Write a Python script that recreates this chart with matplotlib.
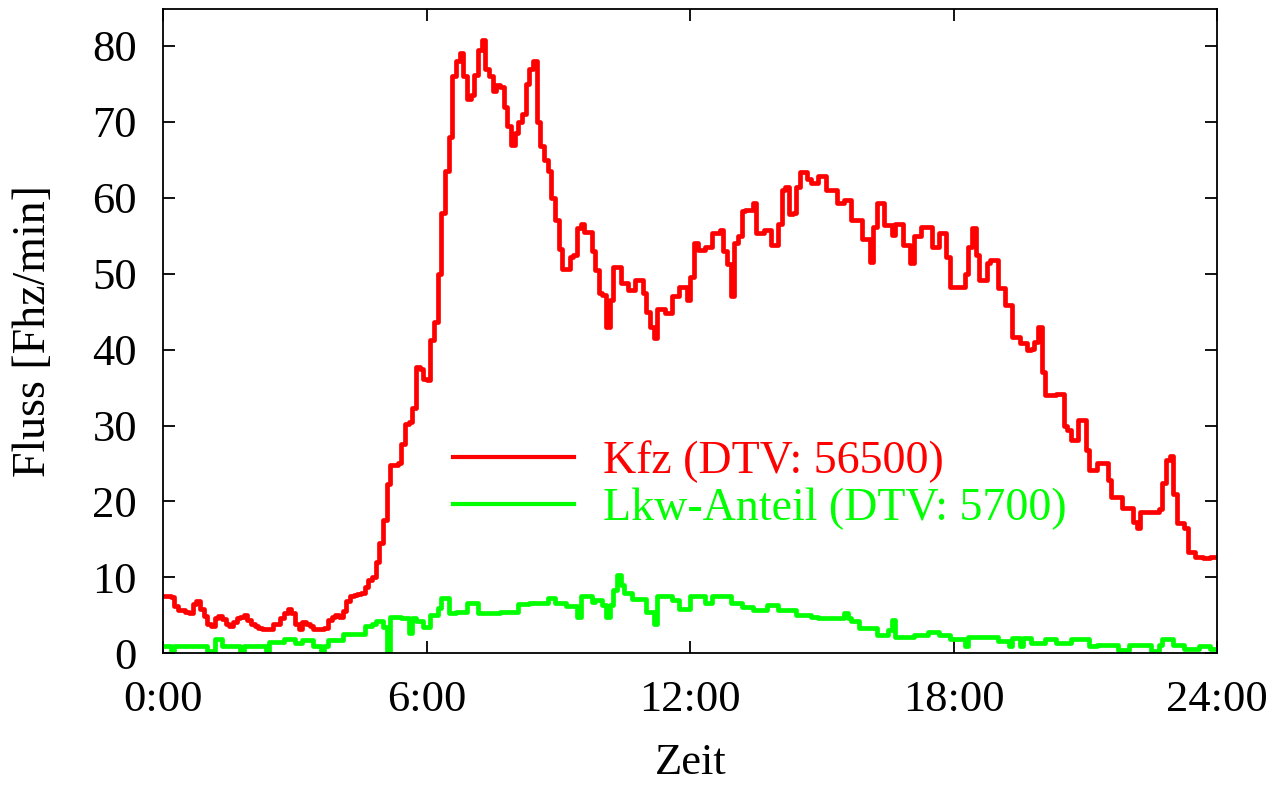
import numpy as np
import matplotlib
matplotlib.use("Agg")
import matplotlib.pyplot as plt

# Time axis: 5-minute intervals over one day (hours)
minutes = np.arange(0, 24 * 60 + 1, 5)
hours = minutes / 60.0

# Flow of all vehicles [veh/min], one row per hour
flow_kfz = [
    7.6, 7.6, 7.4, 6.2, 5.7, 5.7, 5.5, 5.3, 6.5, 6.9, 5.8, 4.9,
    3.8, 3.6, 4.7, 4.9, 4.5, 3.8, 3.6, 4.1, 4.6, 4.8, 5.0, 4.4,
    3.9, 3.6, 3.3, 3.2, 3.2, 3.2, 3.9, 3.9, 4.6, 5.3, 5.8, 5.3,
    3.9, 3.2, 4.1, 3.9, 3.6, 3.2, 3.2, 3.2, 3.3, 4.4, 4.8, 5.0,
    4.8, 5.6, 6.9, 7.5, 7.7, 7.8, 8.0, 8.7, 9.6, 10.0, 12.0, 14.5,
    17.5, 22.3, 24.8, 24.8, 25.0, 27.5, 30.2, 30.5, 32.3, 37.7, 37.5, 36.1,
    36.0, 41.2, 43.6, 50.0, 58.0, 63.5, 68.0, 76.0, 78.0, 79.0, 76.0, 73.0,
    73.5, 76.2, 79.5, 80.8, 77.0, 76.0, 74.0, 74.9, 74.6, 72.0, 69.5, 67.0,
    68.5, 70.0, 71.0, 75.0, 77.0, 78.0, 70.0, 66.8, 65.0, 63.5, 60.0, 57.0,
    53.3, 50.6, 50.6, 52.2, 52.5, 56.0, 56.5, 55.5, 55.5, 53.0, 50.5, 47.5,
    47.2, 43.0, 46.5, 50.9, 50.9, 48.7, 48.7, 47.8, 47.8, 49.2, 49.2, 47.4,
    45.0, 43.0, 41.5, 45.4, 45.4, 44.8, 44.8, 47.0, 47.0, 48.3, 48.3, 46.5,
    49.6, 54.0, 53.1, 53.1, 53.5, 53.5, 55.3, 55.3, 55.7, 53.0, 51.3, 47.0,
    54.0, 55.0, 58.2, 58.4, 58.4, 59.3, 55.3, 55.3, 55.7, 55.7, 53.8, 53.8,
    56.6, 61.0, 61.4, 57.9, 58.0, 61.4, 63.4, 63.4, 62.5, 61.9, 61.9, 62.8,
    62.8, 61.0, 61.0, 61.0, 59.3, 59.3, 59.7, 59.7, 57.1, 57.1, 57.1, 54.6,
    54.6, 51.5, 56.2, 59.3, 59.3, 56.4, 56.4, 55.1, 56.6, 56.6, 53.8, 53.8,
    51.4, 54.9, 54.9, 56.2, 56.2, 56.2, 53.5, 53.5, 55.3, 55.3, 52.2, 48.3,
    48.3, 48.3, 48.3, 50.0, 53.5, 56.0, 52.4, 49.2, 49.2, 51.4, 51.8, 51.8,
    48.1, 48.1, 45.9, 45.9, 41.7, 41.7, 40.8, 40.8, 40.0, 40.1, 41.0, 43.0,
    37.0, 34.0, 34.0, 34.0, 34.2, 34.2, 30.0, 29.4, 28.1, 28.1, 30.7, 30.7,
    26.8, 24.1, 24.1, 25.0, 25.0, 25.0, 22.8, 20.6, 20.6, 20.6, 19.1, 19.1,
    19.1, 17.3, 16.5, 18.6, 18.6, 18.6, 18.6, 18.6, 19.0, 22.4, 25.5, 26.0,
    21.0, 17.1, 17.1, 16.5, 13.4, 13.4, 12.7, 12.7, 12.5, 12.5, 12.7, 12.7,
    12.7,
]

# Flow of heavy goods vehicles [veh/min], one row per hour
flow_lkw = [
    1.0, 1.0, 0.3, 1.0, 1.0, 1.0, 1.0, 1.0, 1.0, 1.0, 1.0, 1.0,
    0.3, 0.3, 1.9, 1.9, 1.0, 1.0, 1.0, 1.0, 1.0, 0.3, 1.0, 1.0,
    1.0, 1.0, 1.0, 1.0, 0.3, 1.5, 1.5, 1.5, 1.5, 1.9, 1.9, 1.9,
    1.3, 1.3, 1.7, 1.7, 1.7, 0.9, 0.9, 0.3, 0.9, 1.7, 1.7, 1.7,
    1.7, 2.5, 2.5, 2.5, 2.5, 2.6, 2.6, 3.6, 3.6, 3.8, 4.3, 4.3,
    3.5, 0.3, 4.8, 4.8, 4.8, 4.6, 4.6, 2.7, 4.6, 4.3, 4.3, 3.5,
    3.5, 5.1, 5.1, 6.0, 7.3, 7.3, 5.3, 5.3, 5.4, 5.4, 5.4, 6.6,
    6.6, 6.6, 5.3, 5.3, 5.3, 5.3, 5.3, 5.3, 5.5, 5.5, 5.5, 5.5,
    5.5, 6.5, 6.5, 6.5, 6.6, 6.6, 6.6, 6.6, 6.6, 7.3, 7.3, 6.6,
    6.6, 6.6, 6.2, 6.2, 6.2, 4.8, 7.5, 7.5, 7.5, 6.7, 7.0, 7.0,
    6.4, 4.8, 6.4, 8.3, 10.3, 9.0, 7.9, 7.9, 7.2, 7.2, 7.2, 7.2,
    5.5, 5.5, 3.9, 7.5, 7.5, 7.5, 7.5, 7.0, 7.0, 5.9, 5.9, 5.9,
    7.5, 7.5, 7.5, 7.5, 6.6, 6.6, 7.5, 7.5, 7.5, 7.5, 7.5, 6.6,
    6.6, 6.6, 6.1, 6.1, 6.1, 5.7, 5.7, 5.7, 5.7, 6.4, 6.4, 6.4,
    5.7, 5.7, 5.7, 5.7, 5.7, 5.0, 5.0, 5.0, 5.0, 4.8, 4.8, 4.6,
    4.6, 4.6, 4.6, 4.6, 4.6, 4.6, 5.3, 4.6, 4.2, 4.2, 3.3, 3.3,
    3.3, 3.3, 3.3, 2.4, 2.4, 2.4, 3.1, 4.4, 2.2, 2.2, 2.2, 2.2,
    2.2, 2.4, 2.4, 2.4, 2.4, 2.8, 2.8, 2.8, 2.4, 2.4, 2.4, 1.9,
    1.9, 1.9, 1.9, 0.9, 2.2, 2.2, 2.2, 2.2, 2.2, 2.2, 2.2, 2.2,
    1.6, 1.6, 1.6, 0.9, 2.0, 2.0, 0.9, 2.0, 2.0, 1.3, 1.3, 1.3,
    1.3, 1.9, 1.9, 1.9, 1.3, 1.3, 1.3, 1.3, 1.9, 1.9, 1.9, 1.9,
    1.9, 1.0, 1.0, 1.1, 1.1, 1.1, 1.1, 1.1, 1.1, 0.5, 0.5, 0.5,
    1.1, 1.1, 1.1, 1.1, 1.1, 1.1, 0.3, 0.3, 1.1, 1.9, 1.9, 1.9,
    1.1, 1.1, 1.1, 0.6, 0.6, 0.6, 0.6, 1.0, 1.0, 1.0, 0.6, 0.6,
    0.6,
]

labels = ["Kfz (DTV: 56500)", "Lkw-Anteil (DTV: 5700)"]
x_ticks = [0, 6, 12, 18, 24]
x_tick_labels = ["0:00", "6:00", "12:00", "18:00", "24:00"]
y_ticks = [0, 10, 20, 30, 40, 50, 60, 70, 80]

plt.rcParams["font.family"] = ["Liberation Serif", "DejaVu Serif"]
fs = 32
fs_leg = 33

fig = plt.figure(figsize=(12.74, 7.86), dpi=100)
ax = fig.add_axes([0.1282, 0.1688, 0.8273, 0.8193])

ax.plot(hours, flow_kfz, drawstyle="steps-post", color="#ff0000", lw=3.4,
        label=labels[0])
ax.plot(hours, flow_lkw, drawstyle="steps-post", color="#00ff00", lw=3.4,
        label=labels[1])

ax.set_xlim(0, 24)
ax.set_ylim(0, 84.8)
ax.set_xticks(x_ticks)
ax.set_xticklabels(x_tick_labels)
ax.set_yticks(y_ticks)

for s in ax.spines.values():
    s.set_linewidth(1.3)
ax.tick_params(direction="in", length=8.5, width=1.3, top=True, right=True,
               labelsize=fs)
ax.tick_params(axis="y", pad=19)
ax.tick_params(axis="x", pad=19)

ax.set_xlabel("Zeit", fontsize=32, va="center")
ax.xaxis.set_label_coords(0.5, -0.170)
ax.set_ylabel("Fluss [Fhz/min]", fontsize=33, va="center")
ax.yaxis.set_label_coords(-0.1227, 0.5)

leg = ax.legend(loc="center left", bbox_to_anchor=(0.2751, 0.261),
                frameon=False, fontsize=fs_leg, handlelength=2.63,
                handletextpad=0.64, labelspacing=0.1, borderpad=0,
                borderaxespad=0, labelcolor="linecolor")
for h in leg.get_lines():
    h.set_linewidth(3.0)

fig.savefig("out.png", dpi=100)
